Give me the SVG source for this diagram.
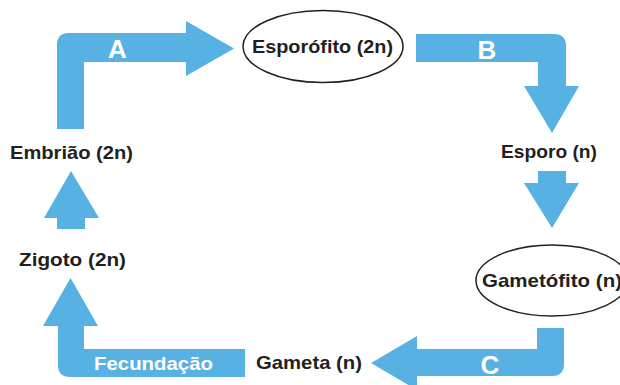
<svg xmlns="http://www.w3.org/2000/svg" width="620" height="385" viewBox="0 0 620 385">
<style>
.arr{fill:#57b1e2}
.lbl{font-family:"Liberation Sans",Arial,sans-serif;font-weight:bold;font-size:19px;fill:#231f20}
.wl{font-family:"Liberation Sans",Arial,sans-serif;font-weight:bold;fill:#ffffff}
.ell{fill:#ffffff;stroke:#231f20;stroke-width:1.5}
</style>
<rect width="620" height="385" fill="#ffffff"/>
<g id="connectors">
<path class="arr" d="M57,129 L57,45 Q57,33 69,33 L186,33 L186,21 L234,48.5 L186,76 L186,62 L84,62 L84,129 Z"/>
<text class="wl" x="117.5" y="58" font-size="26" text-anchor="middle">A</text>
<path class="arr" d="M416,34 L554,34 Q566,34 566,46 L566,86 L579,86 L552,133 L524,86 L538,86 L538,62 L416,62 Z"/>
<text class="wl" x="487" y="59" font-size="26" text-anchor="middle">B</text>
<path class="arr" d="M538,171 L566,171 L566,183 L579,183 L552,228 L524,183 L538,183 Z"/>
<path class="arr" d="M537,328 L564,328 L564,364 Q564,376 552,376 L417,376 L417,390 L371,363 L417,336 L417,349 L537,349 Z"/>
<text class="wl" x="490" y="374" font-size="26" text-anchor="middle">C</text>
<path class="arr" d="M245,349 L245,377 L70,377 Q58,377 58,365 L58,326 L43,326 L70.5,278 L98,326 L84,326 L84,349 Z"/>
<text class="wl" x="94" y="370" font-size="19" textLength="119" lengthAdjust="spacingAndGlyphs">Fecundação</text>
<path class="arr" d="M57,229 L57,218 L44,218 L71,171 L99,218 L85,218 L85,229 Z"/>
</g>
<g id="esporofito">
<ellipse class="ell" cx="323" cy="46.5" rx="80" ry="36"/>
<text class="lbl" x="252" y="53" textLength="141" lengthAdjust="spacingAndGlyphs">Esporófito (2n)</text>
</g>
<g id="esporo">
<text class="lbl" x="501" y="158" textLength="96" lengthAdjust="spacingAndGlyphs">Esporo (n)</text>
</g>
<g id="gametofito">
<ellipse class="ell" cx="552" cy="280.5" rx="76" ry="35.5"/>
<text class="lbl" x="482" y="287" textLength="140" lengthAdjust="spacingAndGlyphs">Gametófito (n)</text>
</g>
<g id="gameta">
<text class="lbl" x="256" y="369" textLength="106" lengthAdjust="spacingAndGlyphs">Gameta (n)</text>
</g>
<g id="zigoto">
<text class="lbl" x="19" y="266" textLength="107" lengthAdjust="spacingAndGlyphs">Zigoto (2n)</text>
</g>
<g id="embriao">
<text class="lbl" x="10" y="159" textLength="123" lengthAdjust="spacingAndGlyphs">Embrião (2n)</text>
</g>
</svg>
